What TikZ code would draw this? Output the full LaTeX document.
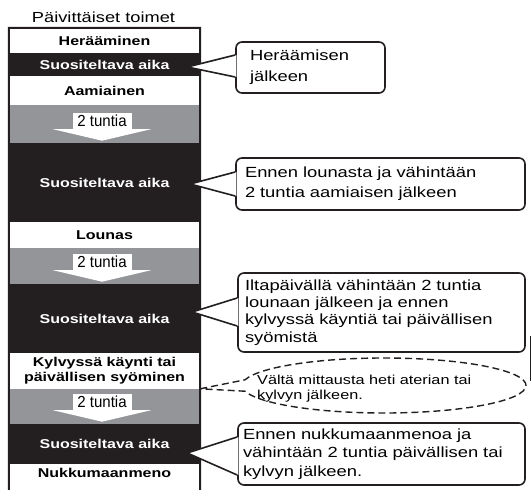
\documentclass[tikz,border=0pt]{standalone}
\usepackage{fontspec}
\setmainfont{Liberation Sans}[FakeStretch=1.25]
\newfontfamily\narrowfam{Liberation Sans}[FakeStretch=0.94]
\usetikzlibrary{calc}
\definecolor{ink}{HTML}{231F20}
\definecolor{bandgray}{HTML}{939598}
\newcommand\bandfont{\fontsize{12.8}{15}\selectfont\bfseries}
\newcommand\labfont{\narrowfam\fontsize{16}{18}\selectfont}
\newcommand\calfont[1]{\fontsize{14.7}{#1}\selectfont}
\begin{document}
\begin{tikzpicture}[x=1pt,y=-1pt,
  bandtxt/.style={minimum width=191pt, inner sep=0pt, font=\bandfont, align=center},
  blk/.style={bandtxt, fill=ink, text=white},
  wht/.style={bandtxt},
  gry/.style={bandtxt, fill=bandgray},
  tlabel/.style={fill=white, inner sep=0pt, minimum width=59pt, minimum height=16pt, font=\labfont},
  cbox/.style={draw=ink, fill=white, line width=1.6pt, rounded corners=6pt, align=left, inner ysep=0pt},
  ptr/.style={draw=ink, line width=1.6pt, line join=miter},
  dsh/.style={draw=ink, line width=1.4pt, dash pattern=on 7pt off 4pt}
]
\useasboundingbox (0,0) rectangle (531,490);

\node[inner sep=0pt, anchor=base, font=\fontsize{14.6}{17}\selectfont] (title) at (103.5,22.7) {Päivittäiset toimet};

% bands
\node[wht, minimum height=25pt] (w1) at (104.5,40.5) {Herääminen};
\node[blk, minimum height=23pt] (k1) at (104.5,64.5) {Suositeltava aika};
\node[wht, minimum height=29pt] (w2) at (104.5,90.5) {Aamiainen};
\node[gry, minimum height=38pt] (g1) at (104.5,124) {};
\node[blk, minimum height=79pt] (k2) at (104.5,182.5) {Suositeltava aika};
\node[wht, minimum height=26pt] (w3) at (104.5,235) {Lounas};
\node[gry, minimum height=36pt] (g2) at (104.5,266) {};
\node[blk, minimum height=69pt] (k3) at (104.5,318.5) {Suositeltava aika};
\node[wht, minimum height=36pt] (w4) at (104.5,371) {Kylvyssä käynti tai\\päivällisen syöminen};
\node[gry, minimum height=35pt] (g3) at (104.5,406.5) {};
\node[blk, minimum height=40pt] (k4) at (104.5,444) {Suositeltava aika};
\node[wht, minimum height=18pt] (w5) at (104.5,473) {Nukkumaanmeno};

% column border
\draw[ink, line width=2pt] (9,490) -- (w1.north west) -- (w1.north east) -- (200,490);

% 2 tuntia arrows
\foreach \g/\a in {g1/a1, g2/a2, g3/a3}{
  \node[tlabel, anchor=south] (\a) at ($(\g.south)+(-2.5,-14)$) {2 tuntia};
  \fill[white] ($(\a.south)+(-49,0)$) -- ($(\a.south)+(49,0)$) -- ($(\g.south)+(-2.5,-2.5)$) -- cycle;
}

% callouts
\node[cbox, minimum width=149pt, minimum height=51pt, text width=121pt, inner xsep=14pt, font=\calfont{21}] (c1) at (310.5,67.5) {Heräämisen\\jälkeen};
\node[cbox, minimum width=289pt, minimum height=52pt, text width=271pt, inner xsep=9pt, font=\calfont{20}] (c2) at (380.5,184) {Ennen lounasta ja vähintään\\2 tuntia aamiaisen jälkeen};
\node[cbox, minimum width=287pt, minimum height=79pt, text width=273pt, inner xsep=7pt, font=\calfont{17.3}] (c3) at (381.5,312.5) {Iltapäivällä vähintään 2 tuntia\\lounaan jälkeen ja ennen\\kylvyssä käyntiä tai päivällisen\\syömistä};
\node[cbox, minimum width=287pt, minimum height=62pt, text width=277pt, inner xsep=5pt, font=\calfont{18.7}] (c4) at (381.5,454) {Ennen nukkumaanmenoa ja\\vähintään 2 tuntia päivällisen tai\\kylvyn jälkeen.};

\coordinate (t1) at ($(k1.east)+(-13,2.5)$);
\coordinate (t2) at ($(k2.east)+(-10,1.5)$);
\coordinate (t3) at ($(k3.east)+(-8,-6.5)$);
\coordinate (t4) at ($(k4.east)+(-13,9)$);

\foreach \c/\t/\u/\l in {c1/t1/-12.5/9.5, c2/t2/-12/12, c3/t3/-14.5/13.5, c4/t4/-17/21}{
  \fill[white] ($(\c.west)+(1.2,\u)$) -- (\t) -- ($(\c.west)+(1.2,\l)$) -- cycle;
  \draw[ptr] ($(\c.west)+(0,\u)$) -- (\t) -- ($(\c.west)+(0,\l)$);
}

% dashed note
\node[inner sep=0pt, anchor=west, align=left, font=\fontsize{13}{15}\selectfont] (note) at (257,389) {Vältä mittausta heti aterian tai\\kylvyn jälkeen.};
\coordinate (ec) at (384,385.5);
\coordinate (et) at (g3.north east);
\draw[dsh] (et) -- ($(ec)+(168:142pt and 27.5pt)$) arc[start angle=168, end angle=-168, x radius=142pt, y radius=27.5pt] -- cycle;

% stray vertical line at right edge
\draw[ink, line width=1pt] (530,336) -- (530,381);
\end{tikzpicture}
\end{document}
